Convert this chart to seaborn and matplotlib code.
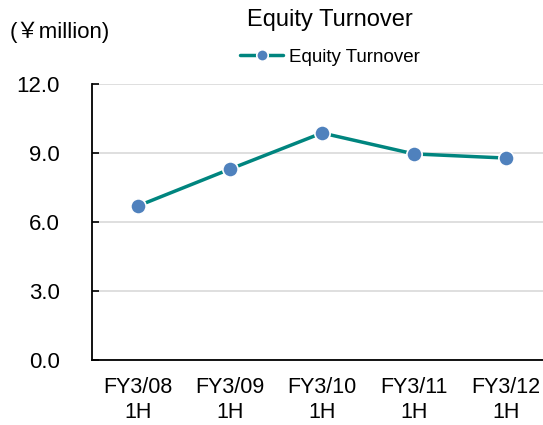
import pandas as pd
import seaborn as sns
import matplotlib.pyplot as plt
from matplotlib.ticker import FixedLocator

# données
periods = ["FY3/08\n1H", "FY3/09\n1H", "FY3/10\n1H", "FY3/11\n1H", "FY3/12\n1H"]
equity_turnover = [6.70, 8.30, 9.87, 8.96, 8.78]
y_ticks = [0.0, 3.0, 6.0, 9.0, 12.0]

df = pd.DataFrame({"period": periods, "value": equity_turnover})
df["pos"] = range(len(df))

sns.set_style("white")
plt.rcParams['font.family'] = ['Liberation Sans', 'Noto Sans CJK JP', 'DejaVu Sans']
plt.rcParams['text.color'] = 'black'
plt.rcParams['xtick.color'] = 'black'
plt.rcParams['ytick.color'] = 'black'

fig = plt.figure(figsize=(5.43, 4.25), dpi=100)
ax = fig.add_axes([92 / 543, 1 - 360 / 425, 460 / 543, 276 / 425])

sns.lineplot(data=df, x="pos", y="value", ax=ax, color="#00857F", linewidth=2.5,
             marker="o", markersize=11, markerfacecolor="#4F81BD",
             markeredgecolor="white", markeredgewidth=1.2, label="Equity Turnover")

ax.set_xlim(-0.5, len(periods) - 0.5)
ax.set_ylim(0, 12)
ax.set_yticks(y_ticks)
ax.set_yticklabels([f"{v:.1f}" for v in y_ticks], fontsize=16)
ax.set_xticks(df["pos"])
ax.set_xticklabels(periods, fontsize=15.5, linespacing=1.3)
ax.xaxis.set_minor_locator(FixedLocator([i + 0.5 for i in range(len(periods) - 1)]))
ax.tick_params(axis="x", which="major", length=0, pad=12, labelcolor="black")
ax.tick_params(axis="x", which="minor", direction="in", length=5, width=1.2, color="black")
ax.tick_params(axis="y", direction="in", length=5, width=1.2, color="black", pad=23,
               left=True, labelcolor="black")
ax.yaxis.grid(True, color="#D9D9D9", linewidth=1.2)
ax.set_axisbelow(True)

for s in ["top", "right"]:
    ax.spines[s].set_visible(False)
for s in ["left", "bottom"]:
    ax.spines[s].set_color("black")
    ax.spines[s].set_linewidth(1.3)

ax.set_xlabel("")
ax.set_ylabel("")

leg = ax.legend(loc="center", bbox_to_anchor=(330 / 543, 1 - 57 / 425),
                bbox_transform=fig.transFigure, frameon=False, fontsize=13.5,
                handlelength=2.3, handletextpad=0.3, markerscale=0.75)
for t in leg.get_texts():
    t.set_color("black")

fig.text(330 / 543, 1 - 20 / 425, "Equity Turnover", ha="center", va="center",
         fontsize=17, color="black")
fig.text(10 / 543, 1 - 32 / 425, "(￥million)", ha="left", va="center",
         fontsize=16, color="black")

fig.savefig("out.png", dpi=100)
